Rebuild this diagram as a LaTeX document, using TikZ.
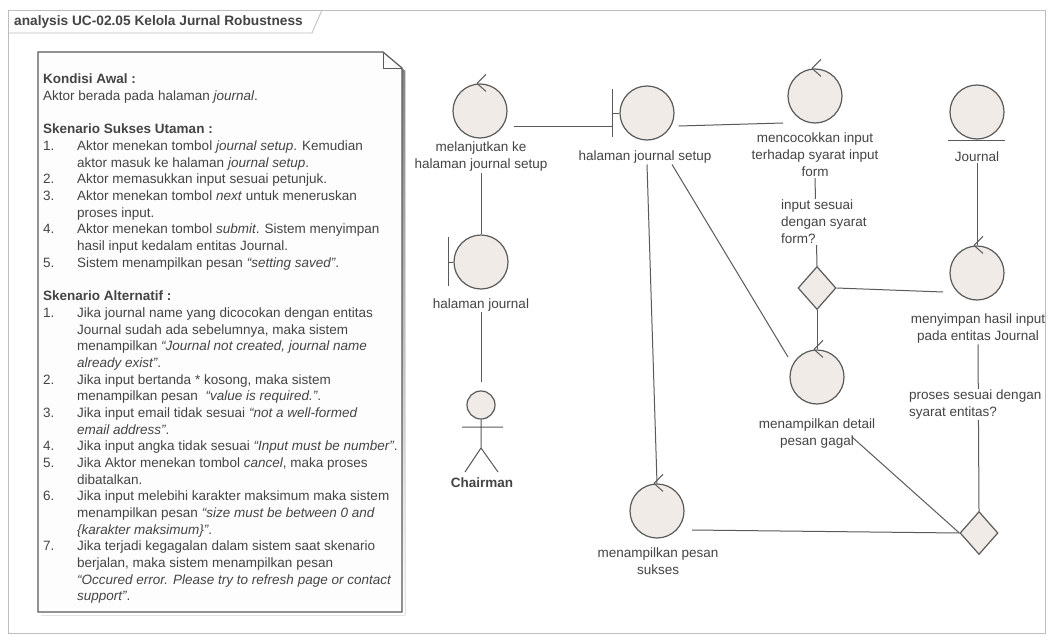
\documentclass[tikz,border=0pt]{standalone}
\usepackage{fontspec}
\setmainfont{Liberation Sans}
\usetikzlibrary{shapes.geometric}
\definecolor{ln}{HTML}{5A5A5A}
\definecolor{txt}{HTML}{444444}
\definecolor{bub}{HTML}{F1EBE8}
\definecolor{frm}{HTML}{BDBDBD}
\definecolor{notefill}{HTML}{FEFDFD}
\definecolor{shade}{HTML}{B5B5B5}
\newcommand\ctlarrow[1]{\draw[conn] ([xshift=-3pt]#1.north) -- ++(9,-9) ([xshift=-3pt]#1.north) -- ++(9,8);}
\begin{document}
\begin{tikzpicture}[x=1pt,y=-1pt,
  conn/.style={draw=ln, line width=1pt},
  ctl/.style={circle, draw=ln, fill=bub, line width=1.2pt, minimum size=54pt, inner sep=0pt},
  dec/.style={diamond, draw=ln, fill=bub, line width=1.2pt, minimum width=38pt, minimum height=43pt, inner sep=0pt},
  lbl/.style={text=txt, font=\fontsize{13.5}{17}\selectfont, align=center, inner sep=1pt},
  qlbl/.style={lbl, align=left, fill=white, anchor=west},
  ntxt/.style={text=txt, font=\fontsize{13.5}{16.68}\selectfont, inner sep=0pt, anchor=north west}
]
\useasboundingbox (0,0) rectangle (1051,642);
\fill[white] (0,0) rectangle (1051,642);
% frame
\draw[frm, line width=0.8pt] (8,10) rectangle (1045,633);
\draw[frm, line width=0.8pt] (8,33) -- (312,33) -- (322,10);
\node[anchor=west, text=txt, font=\fontsize{13.7}{16}\selectfont\bfseries, inner sep=0pt] (title) at (14,22) {analysis UC-02.05 Kelola Jurnal Robustness};
% note
\fill[shade] (41,55) -- (386,55) -- (405,71) -- (405,615) -- (41,615) -- cycle;
\draw[ln, fill=notefill, line width=1.2pt] (38,52) -- (383,52) -- (402,68) -- (402,612) -- (38,612) -- cycle;
\draw[ln, line width=1pt] (383,52) -- (383,68) -- (402,68);
\node[ntxt] (notetext) at (43,72) {%
\begin{tabular}{@{}p{34pt}@{}l@{}}
\multicolumn{2}{@{}l@{}}{\bfseries Kondisi Awal :}\\
\multicolumn{2}{@{}l@{}}{Aktor berada pada halaman \textit{journal}.}\\
\\
\multicolumn{2}{@{}l@{}}{\bfseries Skenario Sukses Utaman :}\\
1. & Aktor menekan tombol \textit{journal setup}. Kemudian\\
   & aktor masuk ke halaman \textit{journal setup}.\\
2. & Aktor memasukkan input sesuai petunjuk.\\
3. & Aktor menekan tombol \textit{next} untuk meneruskan\\
   & proses input.\\
4. & Aktor menekan tombol \textit{submit}. Sistem menyimpan\\
   & hasil input kedalam entitas Journal.\\
5. & Sistem menampilkan pesan \textit{“setting saved”}.\\
\\
\multicolumn{2}{@{}l@{}}{\bfseries Skenario Alternatif :}\\
1. & Jika journal name yang dicocokan dengan entitas\\
   & Journal sudah ada sebelumnya, maka sistem\\
   & menampilkan \textit{“Journal not created, journal name}\\
   & \textit{already exist”}.\\
2. & Jika input bertanda * kosong, maka sistem\\
   & menampilkan pesan \ \textit{“value is required.”}.\\
3. & Jika input email tidak sesuai \textit{“not a well-formed}\\
   & \textit{email address”}.\\
4. & Jika input angka tidak sesuai \textit{“Input must be number”}.\\
5. & Jika Aktor menekan tombol \textit{cancel}, maka proses\\
   & dibatalkan.\\
6. & Jika input melebihi karakter maksimum maka sistem\\
   & menampilkan pesan \textit{“size must be between 0 and}\\
   & \textit{\{karakter maksimum\}”}.\\
7. & Jika terjadi kegagalan dalam sistem saat skenario\\
   & berjalan, maka sistem menampilkan pesan\\
   & \textit{“Occured error. Please try to refresh page or contact}\\
   & \textit{support”}.
\end{tabular}};
% elements
\node[ctl] (c1) at (480,111) {};
\ctlarrow{c1}
\node[lbl] (lc1) at (481,157) {melanjutkan ke\\halaman journal setup};

\node[ctl] (b1) at (647,113) {};
\draw[conn] (612,89) -- (612,137) (612,113) -- (b1.west);
\node[lbl] (lb1) at (645,157) {halaman journal setup};

\node[ctl] (c2) at (815,96) {};
\ctlarrow{c2}
\node[lbl] (lc2) at (815,155) {mencocokkan input\\terhadap syarat input\\form};

\node[ctl] (ent) at (977,112) {};
\draw[conn] (948,140) -- (1005,140);
\node[lbl] (lent) at (977,157) {Journal};

\node[ctl] (b2) at (481,262) {};
\draw[conn] (448,237) -- (448,286) (448,262) -- (b2.west);
\node[lbl] (lb2) at (481,305) {halaman journal};

\node[dec] (d1) at (817,288) {};

\node[ctl] (c3) at (977,273) {};
\ctlarrow{c3}
\node[lbl] (lc3) at (978,328.5) {menyimpan hasil input\\pada entitas Journal};

\node[ctl] (c4) at (817,377) {};
\ctlarrow{c4}
\node[lbl] (lc4) at (817,434) {menampilkan detail\\pesan gagal};

\node[ctl] (c5) at (657,511) {};
\ctlarrow{c5}
\node[lbl] (lc5) at (658,561.5) {menampilkan pesan\\sukses};

\node[dec] (d2) at (979,533) {};

% actor
\node[circle, draw=ln, fill=bub, line width=1.2pt, minimum size=28pt, inner sep=0pt] (actor) at (481,405) {};
\draw[conn] (actor.south) -- (481,448) (462,427) -- (503,427) (465,472) -- (481,448) -- (498,472);
\node[lbl, font=\fontsize{13.5}{17}\selectfont\bfseries] (lact) at (482,483) {Chairman};

% connectors
\draw[conn] ([shift={(6,15)}]c1.east) -- ([shift={(-35,13)}]b1.center);
\draw[conn] ([shift={(4,13)}]b1.east) -- ([shift={(-32,27)}]c2.center);
\draw[conn] (lc1.south) -- (b2.north);
\draw[conn] (lb2.south) -- ([yshift=8pt]actor.north);
\draw[conn] ([xshift=2pt]lb1.south) -- (c5.north);
\draw[conn] ([xshift=27pt]lb1.south) -- ([shift={(-29,-20)}]c4.center);
\draw[conn] (lc2.south) -- (d1.north);
\draw[conn] (d1.east) -- ([shift={(-34,19)}]c3.center);
\draw[conn] (d1.south) -- (c4.north);
\draw[conn] (lent.south) -- (c3.north);
\draw[conn] (lc3.south) -- (d2.north);
\draw[conn] ([shift={(35,3)}]lc4.center) -- (d2.west);
\draw[conn] (d2.west) -- ([shift={(35,19)}]c5.center);
% guard labels
\node[qlbl] (q1) at (780,222) {input sesuai\\dengan syarat\\form?};
\node[qlbl] (q2) at (908,404.5) {proses sesuai dengan\\syarat entitas?};
\end{tikzpicture}
\end{document}
